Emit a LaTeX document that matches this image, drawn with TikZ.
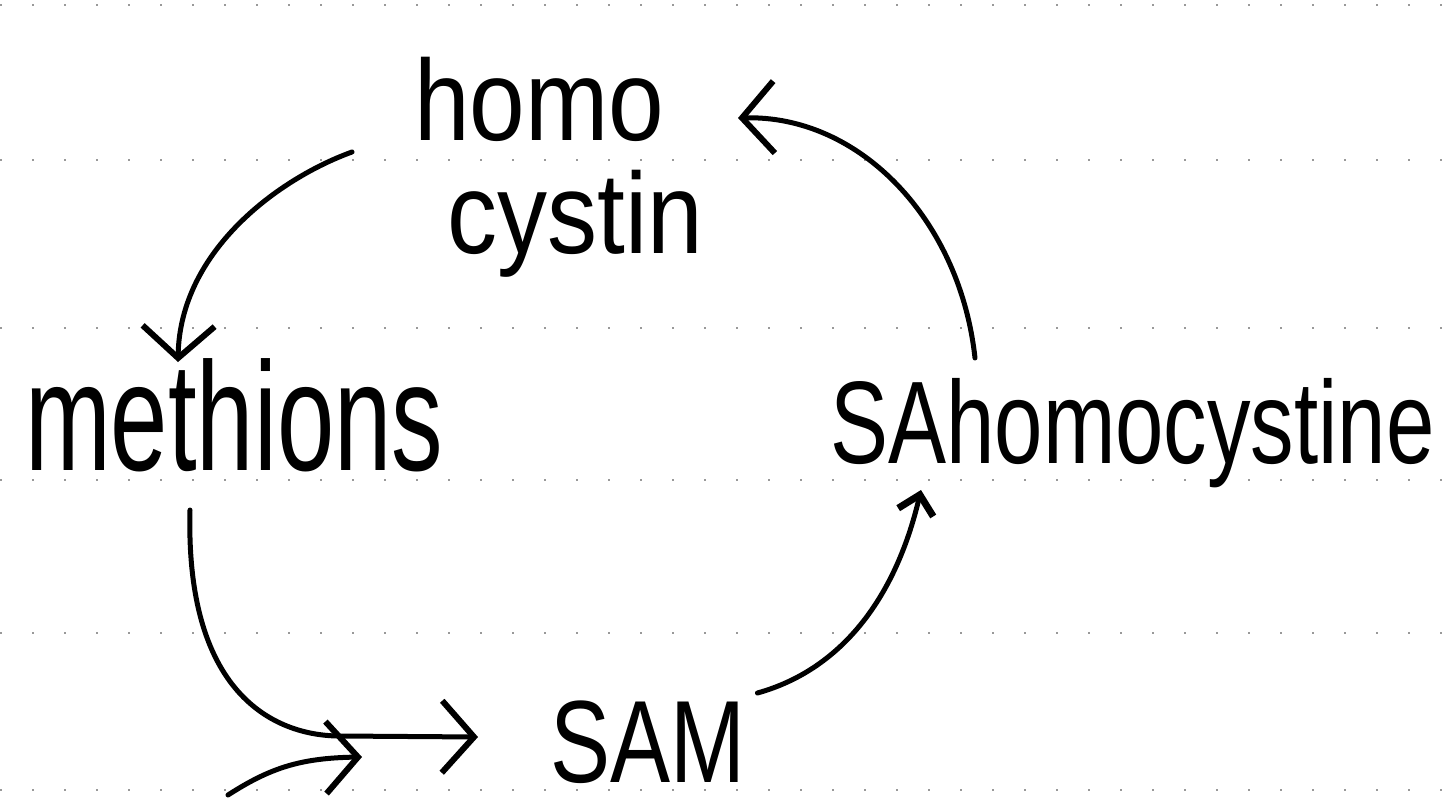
\documentclass[tikz,border=0pt]{standalone}
\usepackage{fontspec}
\setmainfont{Liberation Sans}
\usetikzlibrary{arrows.meta,calc}

\tikzset{
  label/.style={inner sep=0pt, text=black},
  conn/.style={line width=5pt, line cap=round, line join=round,
    -{Straight Barb[length=32pt,width=72pt,line width=6pt]}},
  smallconn/.style={line width=5pt, line cap=round, line join=round,
    -{Straight Barb[length=18pt,width=36pt,line width=7pt]}},
  ruling/.style={line width=1.5pt, black!40, dash pattern=on 2pt off 30pt},
}
\newcommand{\tallby}[2]{\scalebox{1}[#1]{#2}}

\begin{document}
\begin{tikzpicture}[x=1pt,y=-1pt]
  % page frame
  \useasboundingbox (0,0) rectangle (1451,806);
  \fill[white] (0,0) rectangle (1451,806);

  % faint notebook ruling
  \foreach \yy in {5,160,328,480,633,790}
    \draw[ruling] (0,\yy) -- (1451,\yy);

  % metabolites
  \node[label, anchor=base west, font=\fontsize{100}{88}\selectfont] (homo) at (414,140)
    {\tallby{1.15}{\begin{tabular}[t]{@{}l@{}}homo\\\hspace{33pt}cystin\end{tabular}}};
  \node[label, anchor=base west, font=\fontsize{103}{100}\selectfont] (meth) at (25,470)
    {\tallby{1.5}{methions}};
  \node[label, anchor=base west, font=\fontsize{87}{90}\selectfont] (sah) at (830,463)
    {\tallby{1.35}{SAhomocystine}};
  \node[label, anchor=base west, font=\fontsize{90}{90}\selectfont] (sam) at (550,782)
    {\tallby{1.3}{SAM}};

  % free end of the incoming arrow
  \coordinate (feed) at (228,795);

  % cycle
  \draw[conn] ($(homo.base west)+(-62,12)$)
     .. controls (280,178) and (180,250) .. ($(meth.base west)+(153,-108)$);
  \draw[conn] ($(meth.base west)+(165,40)$)
     .. controls (185,700) and (280,736) .. (340,736) -- ($(sam.base west)+(-72,-45)$);
  \draw[conn] (feed) .. controls (270,768) and (300,758) .. ($(sam.base west)+(-188,-25)$);
  \draw[smallconn] ($(sam.base east)+(12,-89)$)
     .. controls (840,670) and (895,600) .. ($(sah.base west)+(91,27)$);
  \draw[conn] ($(sah.base west)+(145,-105)$)
     .. controls (960,220) and (860,115) .. ($(homo.base east)+(35,-22)$);
\end{tikzpicture}
\end{document}
